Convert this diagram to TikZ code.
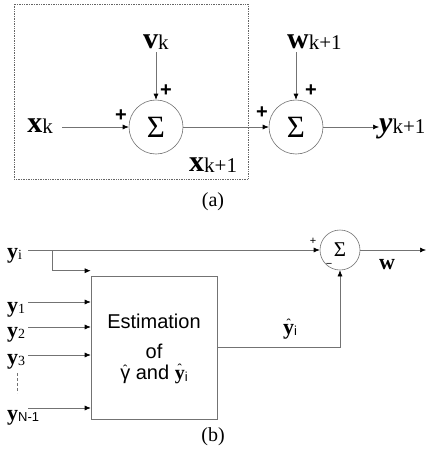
\documentclass[tikz,border=0pt]{standalone}
\usepackage{fontspec}
\setmainfont{Liberation Serif}
\newfontfamily\arialf{Liberation Sans}
\usetikzlibrary{arrows.meta}
\newcommand\fs[1]{\fontsize{#1}{#1}\selectfont}
\newcommand\lowsub[2]{\raisebox{-1.5pt}{\fs{#1}#2}}
\newcommand\myhat[2]{{\ooalign{#1\cr\hidewidth\raisebox{#2}{\arialf\mdseries\fs{13}ˆ}\hidewidth\cr}}}
\tikzset{
  x=1pt,y=-1pt,
  conn/.style={draw=black!55,line width=0.6pt},
  arr/.style={conn,-{Latex[length=6pt,width=5pt,color=black]}},
  sumA/.style={circle,draw=black!55,line width=0.6pt,minimum size=54pt,inner sep=0pt,font=\fs{31}},
  sumB/.style={circle,draw=black!55,line width=0.6pt,minimum size=40pt,inner sep=0pt,font=\fs{21}},
  lblA/.style={inner sep=0pt,font=\fs{30}},
  lblB/.style={inner sep=0pt,font=\fs{22}},
  sign/.style={inner sep=0pt,font=\arialf\bfseries\fs{20}},
  signB/.style={inner sep=0pt,font=\arialf\fs{11}},
  captext/.style={inner sep=0pt,font=\fs{20}},
  estbox/.style={draw=black!55,line width=0.6pt,minimum width=126pt,minimum height=143pt,inner sep=0pt,align=center,font=\arialf\fs{20}}
}
\begin{document}
\begin{tikzpicture}
\useasboundingbox (0,0) rectangle (434,461);
% ---------- (a) ----------
\draw[black!60,line width=0.7pt,densely dotted] (14,4) rectangle (248,179);
\node[sumA] (s1) at (156,127) {Σ};
\node[sumA] (s2) at (296,127) {Σ};
\node[lblA,anchor=base east] (xk) at (53,132) {\textbf{x}\lowsub{21}{k}};
\node[lblA,anchor=base west] (vk) at (143,48) {\textbf{v}\lowsub{21}{k}};
\node[lblA,anchor=base west] (wk) at (287,48) {\textbf{w}\lowsub{21}{k+1}};
\node[lblA,anchor=base west] (yk) at (379,132) {\textbf{\itshape y}\lowsub{21}{k+1}};
\node[lblA,anchor=base west] (xk1) at (189,171) {\textbf{x}\lowsub{21}{k+1}};
\node[captext] (la) at (213,202) {(a)};
\coordinate (vtop) at (156,52);
\coordinate (wtop) at (296,52);
\draw[arr] ([xshift=9pt]xk.east |- s1.west) -- (s1.west);
\draw[arr] (vtop) -- (s1.north);
\draw[arr] (s1.east) -- (s2.west);
\draw[arr] (wtop) -- (s2.north);
\draw[arr] (s2.east) -- (yk.west |- s2.east);
\node[sign] (p1) at (166,91) {+};
\node[sign] (p2) at (121,116) {+};
\node[sign] (p3) at (311,91) {+};
\node[sign] (p4) at (262,113) {+};
% ---------- (b) ----------
\node[sumB] (s3) at (340,250) {Σ};
\node[estbox] (est) at (154,347.5) {Estimation\\[10pt] of\\[1pt] \myhat{γ}{5pt} and {\fontspec{Liberation Serif}\bfseries\myhat{y}{6pt}\lowsub{13}{\mdseries\arialf i}}};
\node[lblB,anchor=base west] (yi) at (7,258) {\textbf{y}\lowsub{14}{i}};
\node[lblB,anchor=base west] (y1) at (7,312) {\textbf{y}\lowsub{14}{1}};
\node[lblB,anchor=base west] (y2) at (7,337) {\textbf{y}\lowsub{14}{2}};
\node[lblB,anchor=base west] (y3) at (7,364) {\textbf{y}\lowsub{14}{3}};
\node[lblB,anchor=base west] (yN) at (7,420) {\textbf{y}\lowsub{13}{\arialf N-1}};
\node[lblB] (w) at (387,265) {\textbf{w}};
\node[lblB,anchor=base west] (yhat) at (283,334) {\textbf{\myhat{y}{6pt}}\lowsub{13}{\arialf i}};
\node[captext] (lb) at (213,437) {(b)};
\coordinate (yiR) at (28,250);
\coordinate (br) at (52,250);
\coordinate (out) at (426,250);
\coordinate (c1) at (28,302);
\coordinate (c2) at (28,327);
\coordinate (c3) at (28,355);
\coordinate (cN) at (28,408);
\draw[arr] (yiR) -- (s3.west);
\draw[arr] (s3.east) -- (out);
\draw[arr] (br) |- ([yshift=5pt]est.north west);
\draw[arr] (c1) -- (c1 -| est.west);
\draw[arr] (c2) -- (c2 -| est.west);
\draw[arr] (c3) -- (c3 -| est.west);
\draw[arr] (cN) -- (cN -| est.west);
\draw[arr] (est.east) -| (s3.south);
\draw[black!55,line width=0.6pt,densely dashed] (17,373) -- (17,393);
\node[signB] (p5) at (313,241) {+};
\node[signB] (m1) at (329,265) {−};
\end{tikzpicture}
\end{document}
